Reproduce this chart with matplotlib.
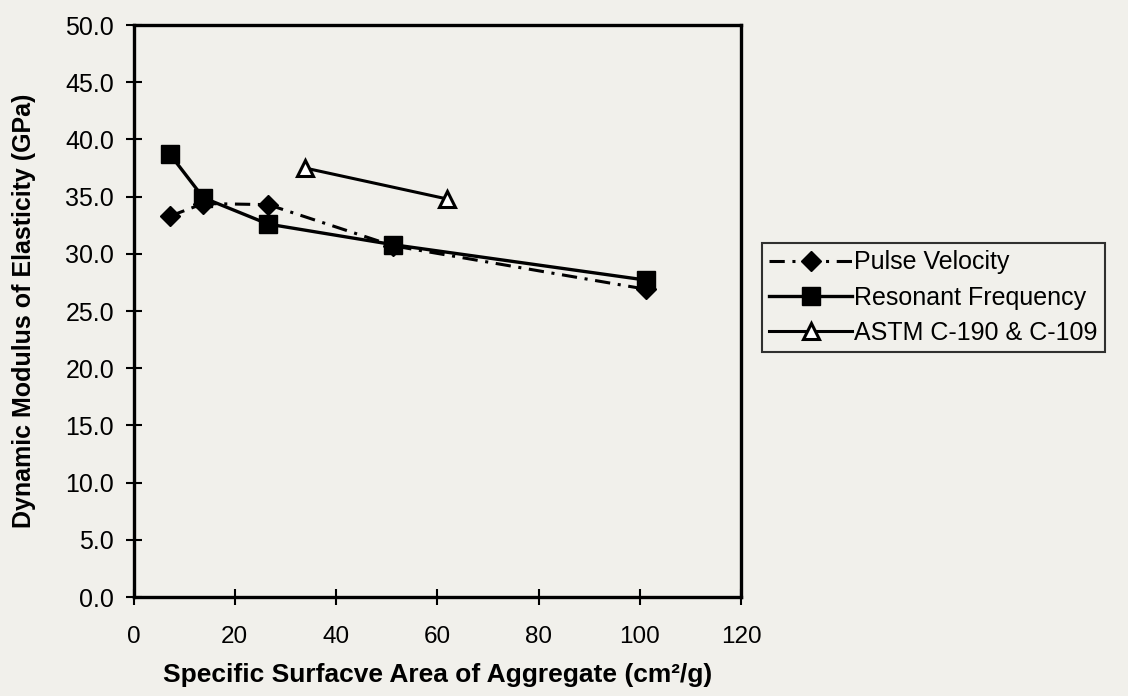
import matplotlib
matplotlib.use("Agg")
import matplotlib.pyplot as plt

# Specific surface area of aggregate (cm^2/g) and dynamic modulus (GPa)
surface_area = [7.2, 13.8, 26.6, 51.3, 101.3]
pulse_velocity = [33.3, 34.4, 34.3, 30.7, 26.9]
resonant_frequency = [38.7, 34.9, 32.6, 30.8, 27.7]
astm_area = [33.9, 61.9]
astm_modulus = [37.5, 34.8]

series_labels = ["Pulse Velocity", "Resonant Frequency", "ASTM C-190 & C-109"]
x_ticks = [0, 20, 40, 60, 80, 100, 120]
y_ticks = [0, 5, 10, 15, 20, 25, 30, 35, 40, 45, 50]

bg = "#f1f0eb"
plt.rcParams["font.family"] = ["Liberation Sans", "DejaVu Sans"]

fig = plt.figure(figsize=(11.28, 6.96), dpi=100, facecolor=bg)
ax = fig.add_axes([0.1184, 0.1422, 0.5386, 0.8218], facecolor=bg)

pv, = ax.plot(surface_area, pulse_velocity, color="black", lw=2.2,
              marker="D", markersize=10, markerfacecolor="black",
              markeredgecolor="black", zorder=3)
pv.set_dashes([5.0, 2.5, 1.0, 2.5])
rf, = ax.plot(surface_area, resonant_frequency, color="black", lw=2.4,
              marker="s", markersize=12.5, markerfacecolor="black",
              markeredgecolor="black", zorder=4)
am, = ax.plot(astm_area, astm_modulus, color="black", lw=2.2,
              marker="^", markersize=12, markerfacecolor="white",
              markeredgecolor="black", markeredgewidth=2.2, zorder=4)

ax.set_xlim(0, 120)
ax.set_ylim(0, 50)
ax.set_xticks(x_ticks)
ax.set_yticks(y_ticks)
ax.set_xticklabels([str(v) for v in x_ticks], fontsize=17.5)
ax.set_yticklabels([f"{v:.1f}" for v in y_ticks], fontsize=18)
ax.tick_params(axis="both", direction="inout", length=12, width=1.5,
               color="black")
ax.tick_params(axis="x", pad=15)
ax.tick_params(axis="y", pad=8)

for side in ["left", "right", "top", "bottom"]:
    ax.spines[side].set_linewidth(2.4)
    ax.spines[side].set_color("black")

ax.set_xlabel("Specific Surfacve Area of Aggregate (cm\u00b2/g)",
              fontsize=19, fontweight="bold")
ax.xaxis.set_label_coords(0.5, -0.115)
ax.set_ylabel("Dynamic Modulus of Elasticity (GPa)", fontsize=18,
              fontweight="bold")
ax.yaxis.set_label_coords(-0.16, 0.5)

leg = fig.legend([pv, rf, am], series_labels, loc="upper left",
                 bbox_to_anchor=(0.6755, 0.651), bbox_transform=fig.transFigure,
                 borderaxespad=0, fontsize=18, handlelength=3.3,
                 handletextpad=0.1, labelspacing=0.45, borderpad=0.3,
                 fancybox=False, frameon=True)
leg.get_frame().set_edgecolor("black")
leg.get_frame().set_linewidth(1.5)
leg.get_frame().set_facecolor(bg)

fig.savefig("out.png", dpi=100, facecolor=bg)
